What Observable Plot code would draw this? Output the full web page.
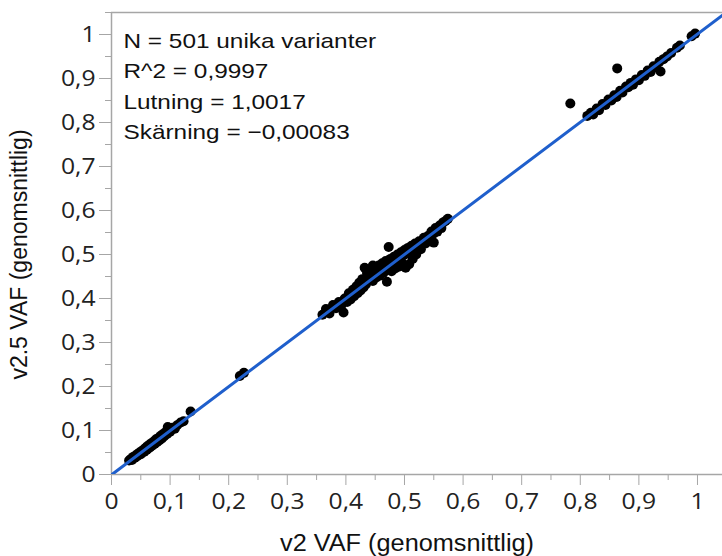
<!DOCTYPE html>
<html>
<head>
<meta charset="utf-8">
<script src="https://cdn.jsdelivr.net/npm/d3@7"></script>
<script src="https://cdn.jsdelivr.net/npm/@observablehq/plot@0.6"></script>
<style>
  html, body { margin: 0; padding: 0; background: #fff; }
  #chart { width: 722px; height: 556px; }
</style>
</head>
<body>
<div id="chart"></div>
<script>
// ---- data ----
const lowCluster = [
  [0.030,0.032],[0.033,0.035],[0.035,0.033],[0.037,0.040],[0.040,0.038],[0.041,0.043],
  [0.043,0.041],[0.045,0.047],[0.046,0.044],[0.048,0.050],[0.050,0.046],[0.051,0.053],
  [0.053,0.050],[0.055,0.057],[0.056,0.052],[0.058,0.060],[0.060,0.056],[0.061,0.064],
  [0.063,0.059],[0.065,0.068],[0.066,0.062],[0.068,0.071],[0.070,0.066],[0.072,0.075],
  [0.074,0.070],[0.076,0.080],[0.078,0.074],[0.080,0.083],[0.082,0.078],[0.084,0.088],
  [0.086,0.082],[0.088,0.092],[0.090,0.087],[0.093,0.097],[0.095,0.092],[0.096,0.108],
  [0.098,0.102],[0.100,0.097],[0.104,0.106],[0.108,0.104],[0.112,0.112],[0.118,0.118],
  [0.123,0.121],[0.135,0.143]
];
const gapPoints = [[0.219,0.224],[0.226,0.231]];
const midCluster = [
  [0.360,0.363],[0.366,0.376],[0.372,0.366],[0.378,0.385],[0.383,0.378],[0.388,0.392],
  [0.392,0.384],[0.396,0.368],[0.398,0.400],[0.402,0.392],[0.405,0.412],[0.408,0.398],
  [0.412,0.420],[0.414,0.405],[0.418,0.428],[0.420,0.412],[0.423,0.436],[0.425,0.418],
  [0.428,0.444],[0.430,0.425],[0.432,0.470],[0.434,0.432],[0.436,0.458],[0.438,0.440],
  [0.440,0.465],[0.442,0.445],[0.446,0.475],[0.446,0.440],[0.448,0.458],[0.450,0.470],
  [0.452,0.448],[0.454,0.462],[0.456,0.475],[0.458,0.452],[0.460,0.468],[0.462,0.480],
  [0.464,0.458],[0.466,0.472],[0.468,0.485],[0.470,0.438],[0.473,0.517],[0.474,0.478],
  [0.476,0.490],[0.478,0.462],[0.480,0.482],[0.482,0.495],[0.484,0.468],[0.486,0.488],
  [0.488,0.500],[0.490,0.472],[0.492,0.492],[0.494,0.505],[0.496,0.480],[0.498,0.498],
  [0.500,0.510],[0.502,0.470],[0.504,0.502],[0.506,0.515],[0.508,0.478],[0.510,0.508],
  [0.512,0.520],[0.514,0.490],[0.516,0.512],[0.518,0.525],[0.520,0.500],[0.522,0.518],
  [0.525,0.530],[0.528,0.512],[0.530,0.525],[0.533,0.538],[0.536,0.525],[0.540,0.542],
  [0.543,0.535],[0.546,0.552],[0.550,0.527],[0.550,0.548],[0.553,0.560],[0.556,0.552],
  [0.560,0.566],[0.563,0.560],[0.566,0.573],[0.570,0.576],[0.574,0.581]
];
const highCluster = [
  [0.812,0.815],[0.818,0.822],[0.822,0.818],[0.828,0.832],[0.832,0.828],[0.838,0.842],
  [0.843,0.840],[0.848,0.852],[0.853,0.850],[0.858,0.862],[0.862,0.858],[0.868,0.872],
  [0.872,0.868],[0.878,0.882],[0.882,0.880],[0.886,0.890],[0.890,0.886],[0.895,0.898],
  [0.900,0.896],[0.905,0.908],[0.910,0.906],[0.915,0.918],[0.920,0.915],[0.925,0.928],
  [0.930,0.925],[0.935,0.938],[0.937,0.916],[0.942,0.944],[0.948,0.950],[0.955,0.958],
  [0.965,0.970],[0.970,0.975],[0.990,0.996],[0.996,1.002],
  [0.783,0.843],[0.863,0.923]
];
const slope = 1.0017;
const intercept = -0.00083;
const fitX = [0, 1.06];

const xTicks = [0, 0.1, 0.2, 0.3, 0.4, 0.5, 0.6, 0.7, 0.8, 0.9, 1];
const xTickLabels = ["0","0,1","0,2","0,3","0,4","0,5","0,6","0,7","0,8","0,9","1"];
const yTicks = [0, 0.1, 0.2, 0.3, 0.4, 0.5, 0.6, 0.7, 0.8, 0.9, 1];
const yTickLabels = ["0","0,1","0,2","0,3","0,4","0,5","0,6","0,7","0,8","0,9","1"];
const minorTicks = [0.05, 0.15, 0.25, 0.35, 0.45, 0.55, 0.65, 0.75, 0.85, 0.95, 1.05];

const statLines = [
  "N = 501 unika varianter",
  "R^2 = 0,9997",
  "Lutning = 1,0017",
  "Sk\u00e4rning = \u22120,00083"
];
const xTitle = "v2 VAF (genomsnittlig)";
const yTitle = "v2.5 VAF (genomsnittlig)";

// ---- build ----
const points = [...lowCluster, ...gapPoints, ...midCluster, ...highCluster]
  .map(([x, y]) => ({x, y}));
const fit = fitX.map(x => ({x, y: slope * x + intercept}));

const grey = "#a6a6a6";
const tickFont = "'Open Sans', sans-serif";
const textFont = "'Liberation Sans', Arial, sans-serif";
const fmtX = d => xTickLabels[xTicks.indexOf(d)];
const fmtY = d => yTickLabels[yTicks.indexOf(d)];

const statMarks = statLines.map((s, i) =>
  Plot.text([s], {
    frameAnchor: "top-left", textAnchor: "start", lineAnchor: "bottom",
    dx: 12, dy: 35 + i * 30.5, fontSize: 21, fontFamily: textFont, fill: "#111"
  })
);

const plot = Plot.plot({
  width: 722,
  height: 556,
  marginLeft: 111,
  marginRight: 0,
  marginTop: 12,
  marginBottom: 82,
  style: {background: "#fff", overflow: "visible", fontSize: "22px", fontFamily: tickFont},
  x: {domain: [0, 1.0427]},
  y: {domain: [0, 1.05]},
  marks: [
    Plot.axisX(minorTicks.slice(0, 10), {tickSize: 6, stroke: grey, tickFormat: () => "", label: null}),
    Plot.axisY(minorTicks, {tickSize: 6, stroke: grey, tickFormat: () => "", label: null}),
    Plot.axisX(xTicks, {tickSize: 11, tickPadding: 8, stroke: grey, fill: "#222",
      tickFormat: fmtX, fontSize: 22, fontFamily: tickFont, label: null}),
    Plot.axisY(yTicks, {tickSize: 12, tickPadding: 4, stroke: grey, fill: "#222",
      tickFormat: fmtY, fontSize: 22, fontFamily: tickFont, label: null}),
    Plot.ruleY([0], {stroke: grey, strokeWidth: 1.5}),
    Plot.ruleX([0], {stroke: grey, strokeWidth: 1.5}),
    Plot.ruleY([1.05], {stroke: grey, strokeWidth: 1.5}),
    Plot.dot(points, {x: "x", y: "y", r: 5, fill: "#000", stroke: "none"}),
    Plot.line(fit, {x: "x", y: "y", stroke: "#1f5fcc", strokeWidth: 3, clip: true}),
    ...statMarks,
    Plot.text([xTitle], {frameAnchor: "bottom", textAnchor: "middle", lineAnchor: "bottom", dx: -10, dy: 76,
      fontSize: 23, fontFamily: textFont, fill: "#111"}),
    Plot.text([yTitle], {frameAnchor: "left", textAnchor: "middle", lineAnchor: "middle", rotate: -90, dx: -92, dy: 11,
      fontSize: 23, fontFamily: textFont, fill: "#111"})
  ]
});

document.getElementById("chart").appendChild(plot);

// widen the stat lines, tick labels and x title slightly, as in the reference
const stretch = {};
statLines.forEach(s => stretch[s] = 1.16);
xTickLabels.forEach(s => stretch[s] = 1.12);
stretch[xTitle] = 1.1;
plot.querySelectorAll("text").forEach(t => {
  const k = stretch[t.textContent];
  if (k) {
    const w = t.getComputedTextLength();
    t.setAttribute("textLength", (w * k).toFixed(1));
    t.setAttribute("lengthAdjust", "spacingAndGlyphs");
  }
});
</script>
</body>
</html>
